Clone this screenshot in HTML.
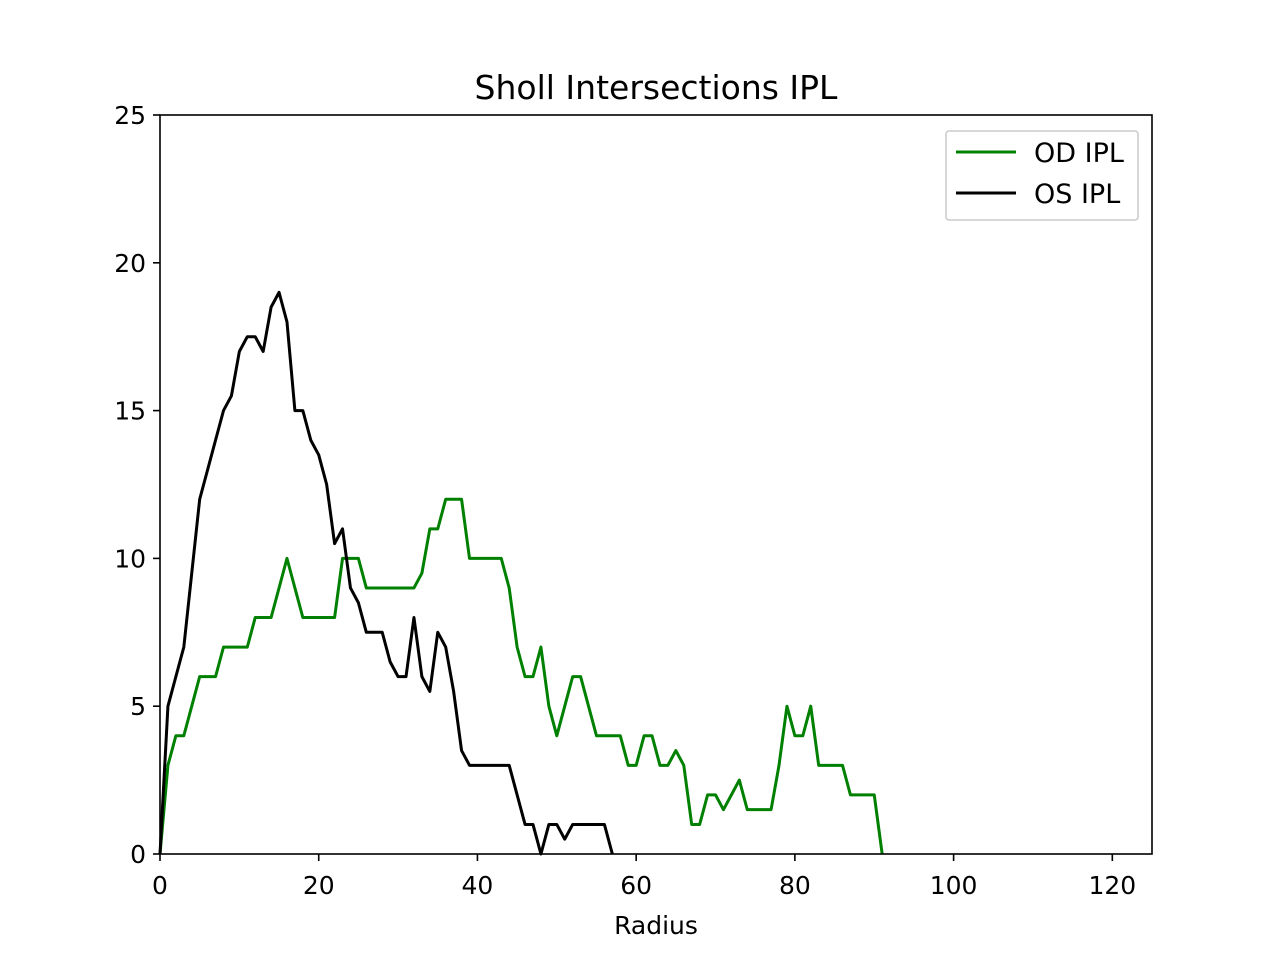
<!DOCTYPE html>
<html><head><meta charset="utf-8"><style>
html,body{margin:0;padding:0;background:#fff;}
svg text{font-family:"DejaVu Sans","Liberation Sans",sans-serif;fill:#000;}
</style></head><body>
<svg id="chart" width="1280" height="960" xmlns="http://www.w3.org/2000/svg">
<rect width="1280" height="960" fill="#fff"/>
<text x="656" y="99" font-size="33" text-anchor="middle">Sholl Intersections IPL</text>
<g id="xticks"></g><g id="yticks"></g>
<g id="lines"></g>
<rect x="160" y="115" width="992" height="739" fill="none" stroke="#000" stroke-width="1.6"/>
<text x="656" y="934" font-size="25" text-anchor="middle">Radius</text>
<g>
<rect x="946" y="131" width="192" height="89" rx="3" fill="#fff" stroke="#ccc" stroke-width="1.6"/>
<line x1="956" y1="152" x2="1016" y2="152" stroke="#008000" stroke-width="3"/>
<text x="1034" y="162" font-size="27">OD IPL</text>
<line x1="956" y1="193" x2="1016" y2="193" stroke="#000" stroke-width="3"/>
<text x="1034" y="203" font-size="27">OS IPL</text>
</g>
</svg>
<script>
const xTickValues=[0,20,40,60,80,100,120];
const yTickValues=[0,5,10,15,20,25];
const odValues=[0,3,4,4,5,6,6,6,7,7,7,7,8,8,8,9,10,9,8,8,8,8,8,10,10,10,9,9,9,9,9,9,9,9.5,11,11,12,12,12,10,10,10,10,10,9,7,6,6,7,5,4,5,6,6,5,4,4,4,4,3,3,4,4,3,3,3.5,3,1,1,2,2,1.5,2,2.5,1.5,1.5,1.5,1.5,3,5,4,4,5,3,3,3,3,2,2,2,2,0];
const osValues=[0,5,6,7,9.5,12,13,14,15,15.5,17,17.5,17.5,17,18.5,19,18,15,15,14,13.5,12.5,10.5,11,9,8.5,7.5,7.5,7.5,6.5,6,6,8,6,5.5,7.5,7,5.5,3.5,3,3,3,3,3,3,2,1,1,0,1,1,0.5,1,1,1,1,1,0];
const NS='http://www.w3.org/2000/svg';
const X=v=>160+v*992/125, Y=v=>854-v*739/25;
const xt=document.getElementById('xticks'), yt=document.getElementById('yticks'), lg=document.getElementById('lines');
function mk(t,a){const e=document.createElementNS(NS,t);for(const k in a)e.setAttribute(k,a[k]);return e;}
xTickValues.forEach(v=>{
 const l=mk('line',{x1:X(v),x2:X(v),y1:854,y2:861,stroke:'#000','stroke-width':1.6});
 
 
 xt.appendChild(l);
 const t=mk('text',{x:X(v),y:894,'font-size':25,'text-anchor':'middle'});t.textContent=v;
 
 
 xt.appendChild(t);
});
yTickValues.forEach(v=>{
 const l=mk('line',{x1:153,x2:160,y1:Y(v),y2:Y(v),stroke:'#000','stroke-width':1.6});
 
 
 yt.appendChild(l);
 const t=mk('text',{x:146,y:Y(v)+9,'font-size':25,'text-anchor':'end'});t.textContent=v;
 
 
 yt.appendChild(t);
});
function series(vals,color,name){
 const p=mk('polyline',{points:vals.map((v,i)=>X(i)+','+Y(v)).join(' '),fill:'none',stroke:color,'stroke-width':3,'stroke-linejoin':'round'});
 
 
 lg.appendChild(p);
}
series(odValues,'#008000','od-ipl-line');
series(osValues,'#000000','os-ipl-line');
</script>
</body></html>
